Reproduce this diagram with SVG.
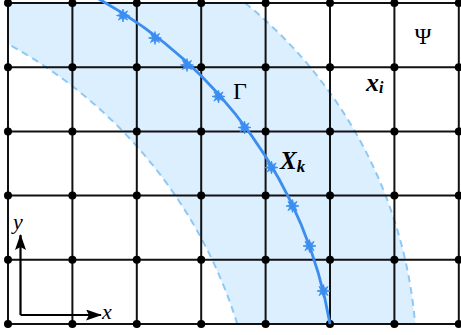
<svg xmlns="http://www.w3.org/2000/svg" width="461" height="335" viewBox="0 0 461 335">
<style>
.grid{stroke:#111;stroke-width:2;fill:none}
.dot{fill:#000}
.band{fill:#dcefff;stroke:none}
.dash{fill:none;stroke:#8ec9f5;stroke-width:2;stroke-dasharray:7 5}
.curve{fill:none;stroke:#3b8ef0;stroke-width:2.8}
.star{fill:#3b8ef0;stroke:#3b8ef0;stroke-width:0.8;stroke-linejoin:round}
.lbl{font-family:"Liberation Serif","DejaVu Serif",serif;fill:#000}
.bi{font-weight:bold;font-style:italic}
.it{font-style:italic}
.ax{stroke:#000;stroke-width:2.2;fill:none}
</style>
<defs>
<polygon id="st" points="6.5,0 2.6,1.1 4.6,4.6 1.1,2.6 0,6.5 -1.1,2.6 -4.6,4.6 -2.6,1.1 -6.5,0 -2.6,-1.1 -4.6,-4.6 -1.1,-2.6 0,-6.5 1.1,-2.6 4.6,-4.6 2.6,-1.1"/>
<marker id="arr" viewBox="0 0 16 11" refX="15" refY="5.5" markerWidth="16" markerHeight="11" markerUnits="userSpaceOnUse" orient="auto">
<path d="M0,0 L16,5.5 L0,11 L3,5.5 Z" fill="#000"/>
</marker>
</defs>
<rect width="461" height="335" fill="#fff"/>
<g id="band">
<path class="band" d="M 8 3 L 245.1 3 A 461.5 461.5 0 0 1 415.1 324 L 237.3 324 A 481.7 481.7 0 0 0 8 44 Z"/>
<path class="dash" d="M 245.1 3 A 461.5 461.5 0 0 1 415.1 324"/>
<path class="dash" stroke-dashoffset="-4" d="M 8 44 A 481.7 481.7 0 0 1 237.3 324"/>
</g>
<g id="connectors">
<path class="grid" d="M8 3V324M72.4 3V324M136.8 3V324M201.2 3V324M265.6 3V324M330 3V324M394.4 3V324M458.8 3V324"/>
<path class="grid" d="M8 3H458.8M8 67.2H458.8M8 131.4H458.8M8 195.6H458.8M8 259.8H458.8M8 324H458.8"/>
</g>
<g id="nodes">
<g id="row0"><circle class="dot" cx="8" cy="3" r="4"/><circle class="dot" cx="72.4" cy="3" r="4"/><circle class="dot" cx="136.8" cy="3" r="4"/><circle class="dot" cx="201.2" cy="3" r="4"/><circle class="dot" cx="265.6" cy="3" r="4"/><circle class="dot" cx="330" cy="3" r="4"/><circle class="dot" cx="394.4" cy="3" r="4"/><circle class="dot" cx="458.8" cy="3" r="4"/></g>
<g id="row1"><circle class="dot" cx="8" cy="67.2" r="4"/><circle class="dot" cx="72.4" cy="67.2" r="4"/><circle class="dot" cx="136.8" cy="67.2" r="4"/><circle class="dot" cx="201.2" cy="67.2" r="4"/><circle class="dot" cx="265.6" cy="67.2" r="4"/><circle class="dot" cx="330" cy="67.2" r="4"/><circle class="dot" cx="394.4" cy="67.2" r="4"/><circle class="dot" cx="458.8" cy="67.2" r="4"/></g>
<g id="row2"><circle class="dot" cx="8" cy="131.4" r="4"/><circle class="dot" cx="72.4" cy="131.4" r="4"/><circle class="dot" cx="136.8" cy="131.4" r="4"/><circle class="dot" cx="201.2" cy="131.4" r="4"/><circle class="dot" cx="265.6" cy="131.4" r="4"/><circle class="dot" cx="330" cy="131.4" r="4"/><circle class="dot" cx="394.4" cy="131.4" r="4"/><circle class="dot" cx="458.8" cy="131.4" r="4"/></g>
<g id="row3"><circle class="dot" cx="8" cy="195.6" r="4"/><circle class="dot" cx="72.4" cy="195.6" r="4"/><circle class="dot" cx="136.8" cy="195.6" r="4"/><circle class="dot" cx="201.2" cy="195.6" r="4"/><circle class="dot" cx="265.6" cy="195.6" r="4"/><circle class="dot" cx="330" cy="195.6" r="4"/><circle class="dot" cx="394.4" cy="195.6" r="4"/><circle class="dot" cx="458.8" cy="195.6" r="4"/></g>
<g id="row4"><circle class="dot" cx="8" cy="259.8" r="4"/><circle class="dot" cx="72.4" cy="259.8" r="4"/><circle class="dot" cx="136.8" cy="259.8" r="4"/><circle class="dot" cx="201.2" cy="259.8" r="4"/><circle class="dot" cx="265.6" cy="259.8" r="4"/><circle class="dot" cx="330" cy="259.8" r="4"/><circle class="dot" cx="394.4" cy="259.8" r="4"/><circle class="dot" cx="458.8" cy="259.8" r="4"/></g>
<g id="row5"><circle class="dot" cx="8" cy="324" r="4"/><circle class="dot" cx="72.4" cy="324" r="4"/><circle class="dot" cx="136.8" cy="324" r="4"/><circle class="dot" cx="201.2" cy="324" r="4"/><circle class="dot" cx="265.6" cy="324" r="4"/><circle class="dot" cx="330" cy="324" r="4"/><circle class="dot" cx="394.4" cy="324" r="4"/><circle class="dot" cx="458.8" cy="324" r="4"/></g>
</g>
<g id="interface">
<path class="curve" d="M 97 -2 A 461.5 461.5 0 0 1 330 324"/>
<g class="star">
<use href="#st" x="123" y="15.5"/>
<use href="#st" x="155" y="38"/>
<use href="#st" x="187" y="65"/>
<use href="#st" x="218.5" y="96.5"/>
<use href="#st" x="244.5" y="127.5"/>
<use href="#st" x="271.5" y="167.5"/>
<use href="#st" x="292.5" y="206"/>
<use href="#st" x="309.5" y="246"/>
<use href="#st" x="323.5" y="291"/>
</g>
</g>
<g id="axes">
<path class="ax" d="M20.5 315 V235" marker-end="url(#arr)"/>
<path class="ax" d="M20.5 315 H101" marker-end="url(#arr)"/>
</g>
<g id="labels">
<text class="lbl" x="423" y="44" font-size="23" text-anchor="middle">Ψ</text>
<text class="lbl" x="233" y="99" font-size="24">Γ</text>
<text class="lbl bi" x="366" y="91" font-size="26">x<tspan font-size="16" dy="2">i</tspan></text>
<text class="lbl bi" x="280" y="169" font-size="25">X<tspan font-size="17" dy="3">k</tspan></text>
<text class="lbl it" x="13" y="229" font-size="22">y</text>
<text class="lbl it" x="102" y="319" font-size="22">x</text>
</g>
</svg>
